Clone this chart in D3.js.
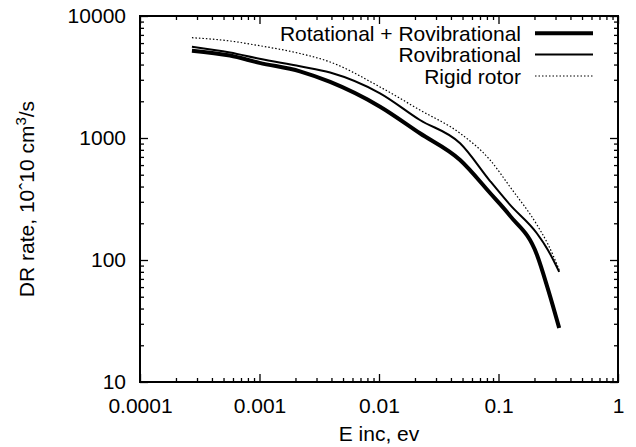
<!DOCTYPE html>
<html>
<head>
<meta charset="utf-8">
<script src="https://cdn.jsdelivr.net/npm/d3@7"></script>
<style>
  body { margin: 0; background: #fff; }
  text { font-family: "Liberation Sans", Arial, sans-serif; fill: #000; }
</style>
</head>
<body>
<div id="chart"></div>
<script>
// energies (eV) and DR rates
var energy = [2.72e-4, 5.66e-4, 0.001, 0.00218, 0.0039, 0.0102, 0.022, 0.0477, 0.085, 0.125, 0.21, 0.259, 0.322]
var rotRovib = [5200, 4740, 4130, 3520, 2880, 1806, 1093, 660, 354, 230, 110, 58, 27.7]
var rovib = [5600, 5020, 4460, 3870, 3443, 2325, 1404, 905, 444, 283, 165, 121, 80]
var rigid = [6640, 6240, 5710, 4930, 4200, 2620, 1696, 1093, 660, 397, 194, 135, 83]

var seriesNames = ['Rotational + Rovibrational', 'Rovibrational', 'Rigid rotor']
var xTicks = [0.0001, 0.001, 0.01, 0.1, 1]
var xTickLabels = ['0.0001', '0.001', '0.01', '0.1', '1']
var yTicks = [10, 100, 1000, 10000]
var yTickLabels = ['10', '100', '1000', '10000']

// set the dimensions and margins of the graph
var W = 636
var H = 447
var margin = { top: 16, right: 18, bottom: 65, left: 140 }
var width = W - margin.left - margin.right
var height = H - margin.top - margin.bottom
var fontSize = '21px'

var svg = d3.select('#chart')
  .append('svg')
  .attr('width', W)
  .attr('height', H)

var g = svg.append('g')
  .attr('transform', 'translate(' + margin.left + ',' + margin.top + ')')

var x = d3.scaleLog().domain([0.0001, 1]).range([0, width])
var y = d3.scaleLog().domain([10, 10000]).range([height, 0])

// minor tick values 2..9 in each decade
var xMinor = x.ticks().filter(function (d) { return xTicks.indexOf(d) < 0 })
var yMinor = y.ticks().filter(function (d) { return yTicks.indexOf(d) < 0 })

function styleAxis (sel) {
  sel.select('.domain').remove()
  sel.selectAll('line').attr('stroke', '#000').attr('stroke-width', 1.3)
  sel.selectAll('text').style('font-size', fontSize)
}

// bottom axis
g.append('g')
  .attr('transform', 'translate(0,' + height + ')')
  .call(d3.axisBottom(x).tickValues(xTicks).tickSize(-8).tickPadding(16)
    .tickFormat(function (d, i) { return xTickLabels[i] }))
  .call(styleAxis)
g.append('g')
  .attr('transform', 'translate(0,' + height + ')')
  .call(d3.axisBottom(x).tickValues(xMinor).tickSize(-4).tickFormat(''))
  .call(styleAxis)
// top mirror
g.append('g')
  .call(d3.axisTop(x).tickValues(xTicks).tickSize(-8).tickFormat(''))
  .call(styleAxis)
g.append('g')
  .call(d3.axisTop(x).tickValues(xMinor).tickSize(-4).tickFormat(''))
  .call(styleAxis)

// left axis
g.append('g')
  .call(d3.axisLeft(y).tickValues(yTicks).tickSize(-8).tickPadding(14)
    .tickFormat(function (d, i) { return yTickLabels[i] }))
  .call(styleAxis)
g.append('g')
  .call(d3.axisLeft(y).tickValues(yMinor).tickSize(-4).tickFormat(''))
  .call(styleAxis)
// right mirror
g.append('g')
  .attr('transform', 'translate(' + width + ',0)')
  .call(d3.axisRight(y).tickValues(yTicks).tickSize(-8).tickFormat(''))
  .call(styleAxis)
g.append('g')
  .attr('transform', 'translate(' + width + ',0)')
  .call(d3.axisRight(y).tickValues(yMinor).tickSize(-4).tickFormat(''))
  .call(styleAxis)

// frame
g.append('rect')
  .attr('width', width)
  .attr('height', height)
  .attr('fill', 'none')
  .attr('stroke', '#000')
  .attr('stroke-width', 2)

// curves
var styles = [
  { w: 4, dash: null },
  { w: 2, dash: null },
  { w: 1.2, dash: '1.5,2' }
]
var allSeries = [rotRovib, rovib, rigid]

var line = d3.line()
  .x(function (d) { return x(d[0]) })
  .y(function (d) { return y(d[1]) })
  .curve(d3.curveMonotoneX)

allSeries.forEach(function (vals, i) {
  g.append('path')
    .datum(energy.map(function (e, j) { return [e, vals[j]] }))
    .attr('d', line)
    .attr('fill', 'none')
    .attr('stroke', '#000')
    .attr('stroke-width', styles[i].w)
    .attr('stroke-dasharray', styles[i].dash)
    .attr('stroke-linejoin', 'round')
})

// legend
var legendRows = [33.3, 54.5, 76]
seriesNames.forEach(function (name, i) {
  svg.append('text')
    .attr('x', 521)
    .attr('y', legendRows[i] + 7.5)
    .attr('text-anchor', 'end')
    .style('font-size', fontSize)
    .text(name)
  svg.append('line')
    .attr('x1', 535).attr('x2', 593)
    .attr('y1', legendRows[i]).attr('y2', legendRows[i])
    .attr('stroke', '#000')
    .attr('stroke-width', styles[i].w)
    .attr('stroke-dasharray', styles[i].dash)
})

// axis titles
svg.append('text')
  .attr('x', margin.left + width / 2)
  .attr('y', 441)
  .attr('text-anchor', 'middle')
  .style('font-size', fontSize)
  .text('E inc, ev')

var yt = svg.append('text')
  .attr('transform', 'translate(34,' + (margin.top + height / 2) + ') rotate(-90)')
  .attr('text-anchor', 'middle')
  .style('font-size', fontSize)
yt.append('tspan').text('DR rate, 10ˆ10 cm')
yt.append('tspan').attr('dy', -8).style('font-size', '15px').text('3')
yt.append('tspan').attr('dy', 8).text('/s')
</script>
</body>
</html>
